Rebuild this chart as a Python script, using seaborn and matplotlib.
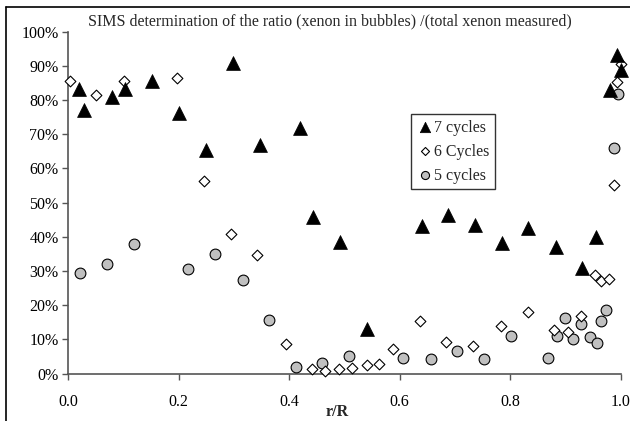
import matplotlib
matplotlib.use("Agg")
import matplotlib.pyplot as plt
import seaborn as sns
import numpy as np
from matplotlib.ticker import FuncFormatter, MultipleLocator
from matplotlib.lines import Line2D

# ---- data ----
x7 = [0.020, 0.028, 0.079, 0.103, 0.151, 0.200, 0.250, 0.298, 0.347, 0.419, 0.443, 0.492,
      0.540, 0.640, 0.688, 0.736, 0.785, 0.833, 0.882, 0.930, 0.956, 0.980, 0.993, 1.000]
y7 = [0.831, 0.772, 0.809, 0.831, 0.855, 0.761, 0.654, 0.909, 0.668, 0.717, 0.457, 0.385,
      0.129, 0.431, 0.463, 0.434, 0.381, 0.425, 0.371, 0.309, 0.400, 0.829, 0.931, 0.887]

x6 = [0.003, 0.051, 0.100, 0.197, 0.246, 0.294, 0.342, 0.394, 0.442, 0.465, 0.490, 0.514,
      0.540, 0.562, 0.588, 0.637, 0.684, 0.733, 0.783, 0.832, 0.879, 0.905, 0.928, 0.953,
      0.964, 0.979, 0.987, 0.993, 1.000]
y6 = [0.855, 0.816, 0.855, 0.865, 0.564, 0.407, 0.346, 0.085, 0.013, 0.008, 0.012, 0.017,
      0.025, 0.027, 0.071, 0.154, 0.091, 0.081, 0.140, 0.179, 0.126, 0.120, 0.169, 0.287,
      0.272, 0.276, 0.551, 0.853, 0.905]

x5 = [0.021, 0.070, 0.119, 0.216, 0.266, 0.316, 0.363, 0.412, 0.460, 0.509, 0.606, 0.656,
      0.703, 0.753, 0.801, 0.869, 0.885, 0.899, 0.913, 0.929, 0.944, 0.957, 0.964, 0.973,
      0.988, 0.996]
y5 = [0.293, 0.319, 0.378, 0.306, 0.349, 0.273, 0.156, 0.019, 0.032, 0.051, 0.044, 0.042,
      0.067, 0.042, 0.111, 0.046, 0.110, 0.162, 0.100, 0.144, 0.107, 0.088, 0.154, 0.186,
      0.660, 0.819]

labels = ["7 cycles", "6 Cycles", "5 cycles"]
title = "SIMS determination of the ratio (xenon in bubbles) /(total xenon measured)"
xlabel = "r/R"

# ---- style ----
sns.set_theme(style="white")
plt.rcParams['font.family'] = ['Liberation Serif', 'DejaVu Serif']
plt.rcParams['font.size'] = 11

fig = plt.figure(figsize=(6.3, 4.21), dpi=100)
W, H = 630, 421
x0, x1 = 68.3, 620.7
ytop, ybot = 31.7, 373.5
ax = fig.add_axes([x0 / W, 1 - ybot / H, (x1 - x0) / W, (ybot - ytop) / H])
ax.set_facecolor("white")

sns.scatterplot(x=x5, y=y5, ax=ax, marker="o", s=60, color="#C0C0C0",
                edgecolor="black", linewidth=0.8, zorder=3, label=labels[2], clip_on=False)
sns.scatterplot(x=x6, y=y6, ax=ax, marker="D", s=30, color="white",
                edgecolor="black", linewidth=0.8, zorder=4, label=labels[1], clip_on=False)
sns.scatterplot(x=x7, y=y7, ax=ax, marker="^", s=100, color="black",
                edgecolor="black", linewidth=0.5, zorder=5, label=labels[0], clip_on=False)

ax.set_xlim(0, 1.0)
ax.set_ylim(0, 1.0)
ax.xaxis.set_major_locator(MultipleLocator(0.2))
ax.yaxis.set_major_locator(MultipleLocator(0.1))
ax.xaxis.set_major_formatter(FuncFormatter(lambda v, p: f"{v:.1f}"))
ax.yaxis.set_major_formatter(FuncFormatter(lambda v, p: f"{v*100:.0f}%"))
ax.tick_params(axis="both", direction="out", length=4, width=1, color="#555555",
               labelsize=11.5, labelcolor="black", bottom=True, left=True)
ax.tick_params(axis="x", pad=11)
ax.tick_params(axis="y", pad=3)
for side in ["top", "right"]:
    ax.spines[side].set_visible(False)
for side in ["left", "bottom"]:
    ax.spines[side].set_color("#555555")
    ax.spines[side].set_linewidth(1.2)
ax.set_xlabel("")
ax.set_ylabel("")
ax.grid(False)

# legend in custom order
handles, labs = ax.get_legend_handles_labels()
order = [labs.index(l) for l in labels]
leg = ax.legend([handles[i] for i in order], [labs[i] for i in order],
                loc="upper left", bbox_to_anchor=((411 - x0) / (x1 - x0), (ybot - 114) / (ybot - ytop)),
                frameon=True, fancybox=False, shadow=False, fontsize=11.5,
                borderpad=0.35, labelspacing=0.5, handletextpad=0.1, handlelength=1.0,
                borderaxespad=0, markerscale=0.75)
leg.get_frame().set_edgecolor("black")
leg.get_frame().set_linewidth(1.0)

fig.text(330 / W, 1 - 21.7 / H, title, ha="center", va="center", fontsize=11.5)
fig.text(337 / W, 1 - 411.5 / H, xlabel, ha="center", va="center", fontsize=11.5, fontweight="bold")

# outer frame (left and top edges visible)
fig.add_artist(Line2D([5.5 / W, 5.5 / W], [-0.1, 1 - 6.7 / H], color="black", lw=1.2))
fig.add_artist(Line2D([5.5 / W, 1.1], [1 - 6.7 / H, 1 - 6.7 / H], color="black", lw=1.2))

fig.savefig("out.png", dpi=100)
